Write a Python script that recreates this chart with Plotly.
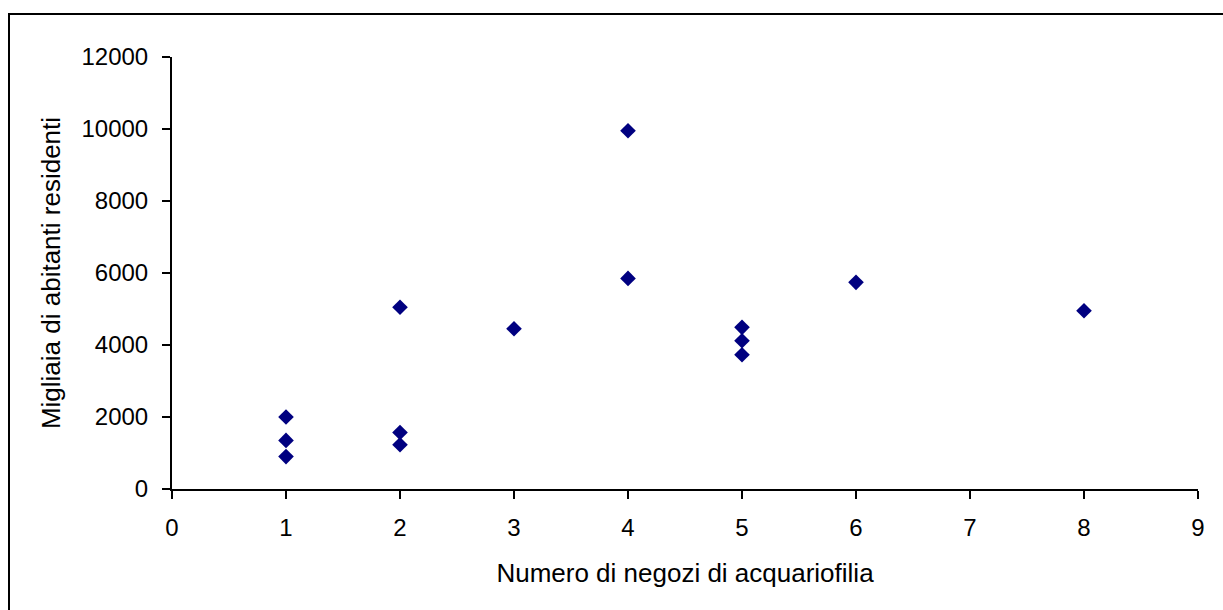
import plotly.graph_objects as go

# Data
negozi = [1, 1, 1, 2, 2, 2, 3, 4, 4, 5, 5, 5, 6, 8]
abitanti = [2000, 1350, 900, 5050, 1570, 1230, 4450, 9950, 5850, 4490, 4120, 3730, 5740, 4950]

x_title = "Numero di negozi di acquariofilia"
y_title = "Migliaia di abitanti residenti"

FONT = "Liberation Sans, Arial, sans-serif"

fig = go.Figure()
fig.add_trace(go.Scatter(
    x=negozi, y=abitanti, mode="markers",
    marker=dict(symbol="diamond", size=12, color="#000080", line=dict(width=0)),
    showlegend=False,
))

W, H = 1223, 610
L, R, T, B = 172, 25, 57, 121
pw, ph = W - L - R, H - T - B

def px_to_paper_x(px):
    return (px - L) / pw

def py_to_paper_y(py):
    return (H - B - py) / ph

fig.update_layout(
    width=W, height=H,
    margin=dict(l=L, r=R, t=T, b=B, pad=0),
    paper_bgcolor="white", plot_bgcolor="white",
    font=dict(family=FONT, size=24, color="black"),
    shapes=[dict(
        type="rect", xref="paper", yref="paper",
        x0=px_to_paper_x(9), x1=px_to_paper_x(W + 20),
        y0=py_to_paper_y(H + 20), y1=py_to_paper_y(14),
        line=dict(color="black", width=2), fillcolor="rgba(0,0,0,0)",
        layer="above",
    )],
)

fig.update_xaxes(
    range=[0, 9], dtick=1, tick0=0,
    showgrid=False, zeroline=False,
    showline=True, linecolor="black", linewidth=2,
    ticks="outside", ticklen=8, tickwidth=2, tickcolor="black",
    ticklabelstandoff=8, tickformat="d",
    title=dict(text=x_title, font=dict(size=26), standoff=24),
)
fig.update_yaxes(
    range=[0, 12000], dtick=2000, tick0=0,
    showgrid=False, zeroline=False,
    showline=True, linecolor="black", linewidth=2,
    ticks="outside", ticklen=8, tickwidth=2, tickcolor="black",
    ticklabelstandoff=9, tickformat="d",
    title=dict(text=y_title, font=dict(size=26), standoff=13),
)

fig.write_html("out.html")
